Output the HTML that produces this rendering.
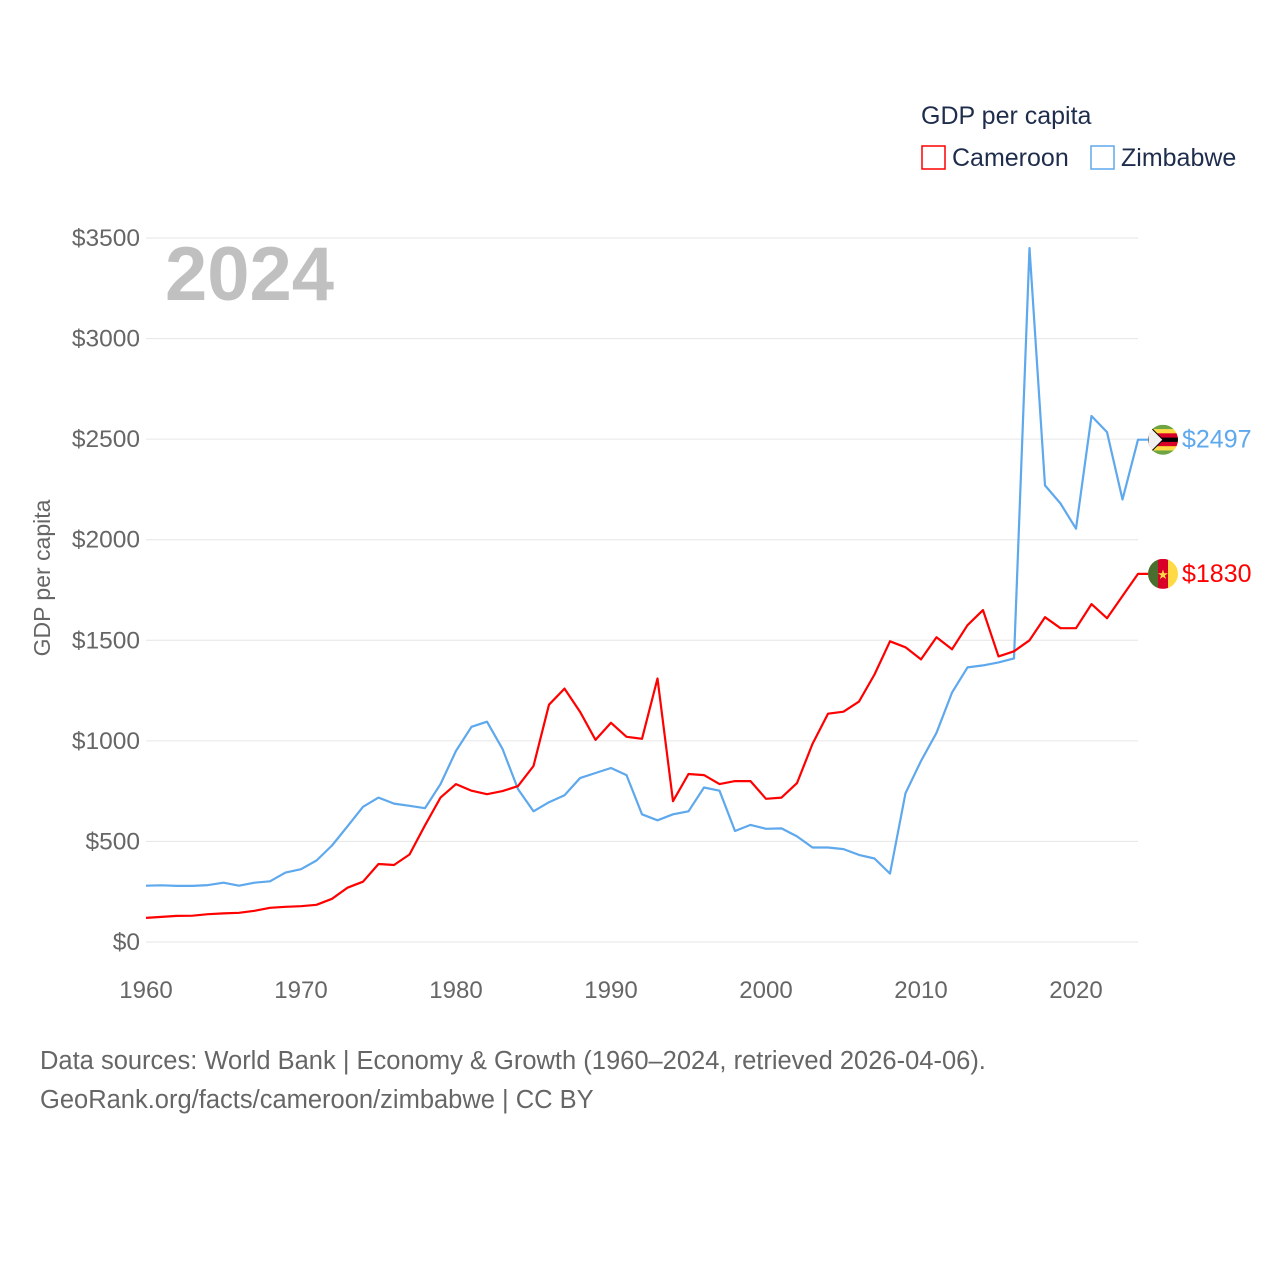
<!DOCTYPE html>
<html><head><meta charset="utf-8"><style>
body{margin:0;background:#fff;font-family:"Liberation Sans",sans-serif;}
#wrap{position:relative;width:1280px;height:1280px;}
</style></head><body>
<div id="wrap">
<svg id="chart" width="1280" height="1280"></svg>
</div>
<script>
const years=[];for(let y=1960;y<=2024;y++)years.push(y);
const cameroon=[120,125,130,131,138,142,145,155,170,175,178,185,215,270,300,388,383,435,580,718,785,752,735,750,775,875,1180,1260,1145,1005,1090,1020,1010,1310,700,835,830,785,800,800,712,718,790,985,1135,1145,1195,1330,1495,1465,1405,1515,1455,1575,1650,1420,1445,1500,1615,1560,1560,1680,1610,1720,1830];
const zimbabwe=[280,282,279,279,283,295,280,295,302,345,362,405,480,575,672,718,688,677,665,785,950,1070,1095,960,760,650,695,730,815,840,865,830,635,605,635,650,768,752,552,582,563,565,525,470,470,462,433,415,340,740,900,1040,1240,1365,1375,1390,1410,3450,2270,2180,2055,2615,2535,2200,2497];
const yTicks=[0,500,1000,1500,2000,2500,3000,3500];
const xTicks=[1960,1970,1980,1990,2000,2010,2020];
const NS='http://www.w3.org/2000/svg';
const svg=document.getElementById('chart');
const X=y=>146+(y-1960)*15.5;
const Y=v=>942-v*704/3500;
function mk(tag,attrs,text){const e=document.createElementNS(NS,tag);for(const k in attrs)e.setAttribute(k,attrs[k]);if(text!==undefined)e.textContent=text;svg.appendChild(e);return e;}
yTicks.forEach(t=>{
  const g=mk('line',{x1:146,x2:1138,y1:Y(t),y2:Y(t),stroke:'#e6e6e6','stroke-width':1});
  
  
  const l=mk('text',{x:140,y:Y(t)+8,'text-anchor':'end','font-size':24.5,fill:'#666'},'$'+t);
  
  
});
xTicks.forEach(t=>{
  const l=mk('text',{x:X(t),y:998,'text-anchor':'middle','font-size':24,fill:'#666'},String(t));
  
  
});
const yt=mk('text',{x:0,y:0,transform:'translate(50,578) rotate(-90)','text-anchor':'middle','font-size':23,fill:'#666'},'GDP per capita');


const yr=mk('text',{x:165,y:300,'font-size':76,'font-weight':'bold',fill:'#c0c0c0'},'2024');


function series(vals,color,name){
  let d=vals.map((v,i)=>(i?'L':'M')+X(years[i]).toFixed(1)+' '+Y(v).toFixed(1)).join(' ');
  d+=' L'+(X(2024)+10)+' '+Y(vals[vals.length-1]).toFixed(1);
  const p=mk('path',{d:d,fill:'none',stroke:color,'stroke-width':2.2,'stroke-linejoin':'round'});
  
  
}
series(zimbabwe,'#5ea8ed','zimbabwe');
series(cameroon,'#ff0000','cameroon');
function flagZ(cy){
  const cx=1163;
  const g=document.createElementNS(NS,'g');svg.appendChild(g);
  
  
  const cols=['#6da544','#ffda44','#d80027','#000','#d80027','#ffda44','#6da544'];
  const clip=mk('clipPath',{id:'cz'});clip.appendChild(document.createElementNS(NS,'circle'));
  clip.firstChild.setAttribute('cx',cx);clip.firstChild.setAttribute('cy',cy);clip.firstChild.setAttribute('r',15);
  cols.forEach((c,i)=>{const r=document.createElementNS(NS,'rect');r.setAttribute('x',cx-15);r.setAttribute('y',cy-15+i*30/7);r.setAttribute('width',30);r.setAttribute('height',30/7+0.5);r.setAttribute('fill',c);r.setAttribute('clip-path','url(#cz)');g.appendChild(r);});
  const t=document.createElementNS(NS,'polygon');t.setAttribute('points',`${cx-15},${cy-15} ${cx},${cy} ${cx-15},${cy+15}`);t.setAttribute('fill','#f0f0f0');t.setAttribute('stroke','#000');t.setAttribute('clip-path','url(#cz)');g.appendChild(t);
}
function flagC(cy){
  const cx=1163;
  const g=document.createElementNS(NS,'g');svg.appendChild(g);
  
  
  const clip=mk('clipPath',{id:'cc'});const c=document.createElementNS(NS,'circle');c.setAttribute('cx',cx);c.setAttribute('cy',cy);c.setAttribute('r',15);clip.appendChild(c);
  [['#496e2d',0],['#d80027',1],['#ffda44',2]].forEach(([col,i])=>{const r=document.createElementNS(NS,'rect');r.setAttribute('x',cx-15+i*10);r.setAttribute('y',cy-15);r.setAttribute('width',10.5);r.setAttribute('height',30);r.setAttribute('fill',col);r.setAttribute('clip-path','url(#cc)');g.appendChild(r);});
  const s=document.createElementNS(NS,'text');s.setAttribute('x',cx);s.setAttribute('y',cy+5);s.setAttribute('text-anchor','middle');s.setAttribute('font-size',13);s.setAttribute('fill','#ffda44');s.textContent='★';g.appendChild(s);
}
const zl=zimbabwe[zimbabwe.length-1], cl=cameroon[cameroon.length-1];
flagZ(Y(zl));flagC(Y(cl));
const zt=mk('text',{x:1182,y:Y(zl)+8,'font-size':25,fill:'#5ea8ed'},'$'+zl);


const ct=mk('text',{x:1182,y:Y(cl)+8,'font-size':25,fill:'#ff0000'},'$'+cl);


const lt=mk('text',{x:921,y:124,'font-size':25,fill:'#1f2d4d'},'GDP per capita');


const r1=mk('rect',{x:922,y:146,width:23,height:23,fill:'none',stroke:'#ff0000','stroke-width':1.5});


const t1=mk('text',{x:952,y:166,'font-size':25,fill:'#1f2d4d'},'Cameroon');


const r2=mk('rect',{x:1091,y:146,width:23,height:23,fill:'none',stroke:'#5ea8ed','stroke-width':1.5});


const t2=mk('text',{x:1121,y:166,'font-size':25,fill:'#1f2d4d'},'Zimbabwe');


const s1=mk('text',{x:40,y:1069,'font-size':25.5,fill:'#666'},'Data sources: World Bank | Economy & Growth (1960–2024, retrieved 2026-04-06).');


const s2=mk('text',{x:40,y:1108,'font-size':25.5,fill:'#666'},'GeoRank.org/facts/cameroon/zimbabwe | CC BY');


</script>
</body></html>
